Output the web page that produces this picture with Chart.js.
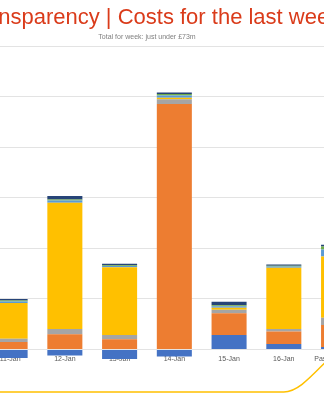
<!DOCTYPE html>
<html>
<head>
<meta charset="utf-8">
<title>Costs for the last week</title>
<script src="https://cdn.jsdelivr.net/npm/chart.js@4.4.1/dist/chart.umd.min.js"></script>
<style>
  html, body { margin: 0; padding: 0; background: #fff; width: 324px; height: 400px; overflow: hidden; }
  /* chart is wider than the window, only the middle part shows */
  #costChart { position: absolute; left: -72px; top: 0; }
</style>
</head>
<body>
<canvas id="costChart" width="440" height="400"></canvas>
<script>
// Daily costs (£m), split by cost type
const days = ["10-Jan", "11-Jan", "12-Jan", "13-Jan", "14-Jan", "15-Jan", "16-Jan", "Past 12 months"];
const typeA = [-0.5, -0.85, -0.6, -0.94, -0.7, 1.44, 0.55, 0.25];
const typeB = [1.6, 0.75, 1.5, 1.0, 24.3, 2.15, 1.22, 2.18];
const typeC = [0.4, 0.3, 0.53, 0.43, 0.45, 0.33, 0.26, 0.72];
const typeD = [6.2, 3.55, 12.5, 6.7, 0.17, 0.2, 6.06, 6.05];
const typeE = [0.3, 0.15, 0.2, 0.12, 0.2, 0.15, 0.12, 0.7];
const typeF = [0.1, 0.1, 0.1, 0.08, 0.17, 0.11, 0.08, 0.3];
const typeG = [0.2, 0.15, 0.35, 0.15, 0.15, 0.33, 0.12, 0.17];
// running trend shown along the foot of the chart
const trend = [0, 0, 0, 0, 0, 0, 0, 5.2];

Chart.defaults.font.family = "'Liberation Sans', Arial, sans-serif";

function bars(label, data, colour) {
  return {
    type: "bar",
    label: label,
    data: data,
    backgroundColor: colour,
    borderWidth: 0,
    yAxisID: "y",
    stack: "costs",
    categoryPercentage: 1,
    barPercentage: 0.64,
  };
}

const ctx = document.getElementById("costChart");
new Chart(ctx, {
  data: {
    labels: days,
    datasets: [
      bars("Type A", typeA, "#4472C4"),
      bars("Type B", typeB, "#ED7D31"),
      bars("Type C", typeC, "#A5A5A5"),
      bars("Type D", typeD, "#FFC000"),
      bars("Type E", typeE, "#5B9BD5"),
      bars("Type F", typeF, "#70AD47"),
      bars("Type G", typeG, "#264478"),
      {
        type: "line",
        label: "Trend",
        data: trend,
        yAxisID: "y2",
        borderColor: "#FFC000",
        borderWidth: 1.5,
        pointRadius: 0,
        cubicInterpolationMode: "monotone",
        fill: false,
      },
    ],
  },
  options: {
    responsive: false,
    animation: false,
    devicePixelRatio: 1,
    layout: { padding: { left: 0, right: 2, top: 0, bottom: 0 } },
    plugins: {
      legend: { display: false },
      tooltip: { enabled: false },
      title: {
        display: true,
        // leading spaces nudge the heading a little right of centre
        text: "  Transparency | Costs for the last week",
        color: "#DA3B1A",
        font: { size: 22, weight: "normal" },
        padding: { top: 5, bottom: 0 },
      },
      subtitle: {
        display: true,
        text: "Total for week: just under £73m",
        color: "#7F7F7F",
        font: { size: 7 },
        padding: { top: 1.5, bottom: 5 },
      },
    },
    scales: {
      x: {
        stacked: true,
        position: { y: 0 },
        grid: { display: false, drawTicks: false },
        border: { display: false },
        ticks: { color: "#595959", font: { size: 7 }, padding: 5, maxRotation: 0, autoSkip: false },
      },
      y: {
        stacked: true,
        min: -5,
        max: 30,
        ticks: { display: false, stepSize: 5 },
        border: { display: false },
        grid: {
          drawTicks: false,
          color: (c) => (c.tick && c.tick.value < 0 ? "rgba(0,0,0,0)" : "#E3E3E3"),
        },
      },
      y2: {
        display: false,
        min: -1,
        max: 43.2,
      },
    },
  },
});
</script>
</body>
</html>
